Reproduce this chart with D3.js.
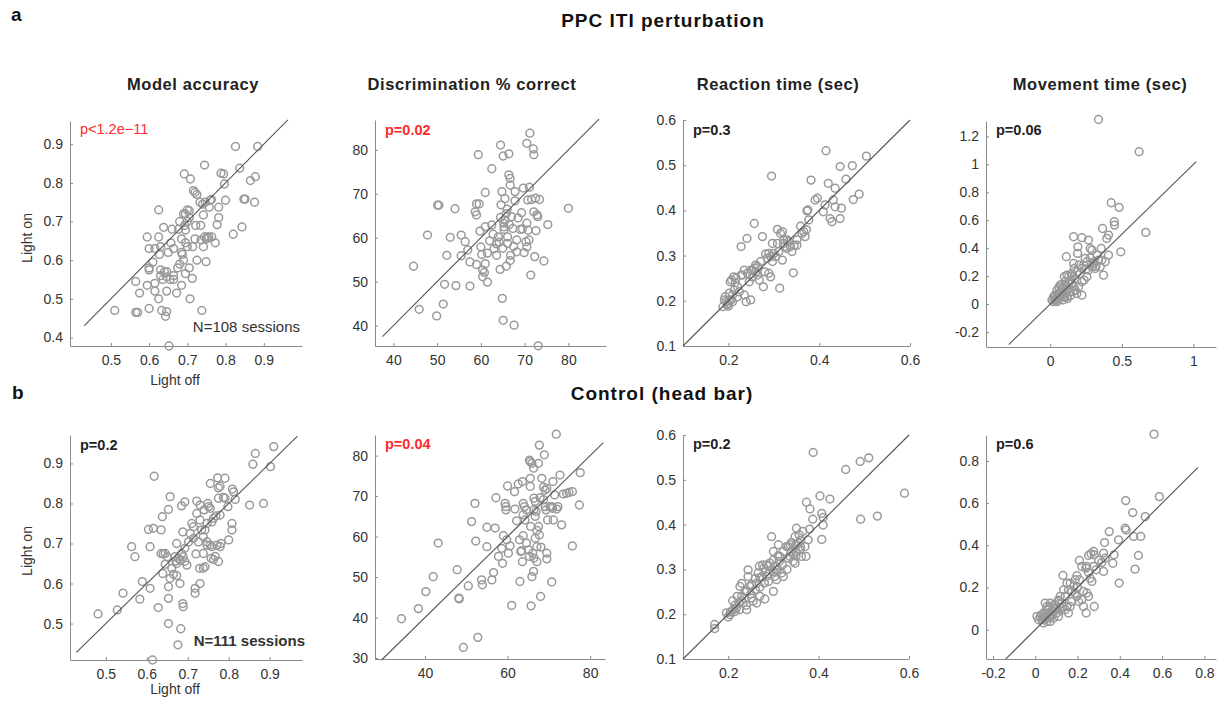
<!DOCTYPE html>
<html><head><meta charset="utf-8">
<script src="https://cdn.jsdelivr.net/npm/d3@7"></script>
<style>
body{margin:0;background:#fff;}
svg{display:block;font-family:"Liberation Sans",Arial,Helvetica,sans-serif;}
</style></head>
<body>
<svg id="chart" width="1221" height="702"></svg>
<script>
// ---------- DATA (Light off, Light on) ----------
const ppcModelAcc = [[0.51,0.47],[0.565,0.465],[0.57,0.465],[0.60,0.475],[0.565,0.545],[0.575,0.515],[0.595,0.535],[0.595,0.66],[0.60,0.63],[0.60,0.58],[0.60,0.575],[0.615,0.54],[0.615,0.52],[0.625,0.50],[0.625,0.73],[0.625,0.66],[0.615,0.63],[0.61,0.595],[0.627,0.615],[0.63,0.635],[0.638,0.685],[0.633,0.47],[0.643,0.455],[0.646,0.467],[0.63,0.575],[0.64,0.57],[0.636,0.55],[0.646,0.57],[0.65,0.62],[0.657,0.645],[0.66,0.68],[0.652,0.378],[0.664,0.56],[0.672,0.515],[0.675,0.58],[0.68,0.59],[0.685,0.62],[0.687,0.615],[0.685,0.535],[0.677,0.68],[0.68,0.70],[0.69,0.72],[0.695,0.72],[0.692,0.823],[0.708,0.81],[0.70,0.73],[0.705,0.728],[0.693,0.69],[0.685,0.655],[0.695,0.645],[0.70,0.635],[0.695,0.565],[0.705,0.58],[0.707,0.50],[0.713,0.553],[0.70,0.70],[0.705,0.71],[0.716,0.78],[0.72,0.775],[0.725,0.77],[0.722,0.69],[0.725,0.60],[0.714,0.635],[0.735,0.69],[0.74,0.745],[0.733,0.75],[0.745,0.846],[0.736,0.652],[0.738,0.47],[0.742,0.635],[0.745,0.66],[0.75,0.655],[0.752,0.66],[0.747,0.75],[0.749,0.596],[0.742,0.717],[0.76,0.755],[0.763,0.757],[0.757,0.737],[0.773,0.645],[0.778,0.692],[0.782,0.71],[0.782,0.737],[0.788,0.825],[0.795,0.823],[0.797,0.797],[0.80,0.755],[0.82,0.667],[0.826,0.894],[0.837,0.838],[0.843,0.686],[0.848,0.758],[0.851,0.758],[0.865,0.806],[0.878,0.816],[0.876,0.75],[0.884,0.894],[0.764,0.66],[0.756,0.66],[0.646,0.557],[0.655,0.55],[0.664,0.55],[0.695,0.678],[0.664,0.63],[0.646,0.52],[0.72,0.655],[0.69,0.60],[0.63,0.56]];

const ppcDiscrim = [[44.6,53.5],[45.9,43.7],[47.8,60.6],[49.9,42.2],[50.1,67.4],[50.4,67.4],[51.4,44.9],[51.7,49.4],[52.2,56.0],[53.0,60.1],[54.1,66.6],[54.3,49.1],[55.5,60.6],[55.5,55.9],[56.4,59.1],[57.5,49.0],[57.5,54.5],[57.0,57.2],[58.7,65.9],[59.0,65.2],[59.0,67.7],[59.6,67.7],[59.4,78.9],[59.0,53.9],[60.0,57.9],[60.2,56.2],[60.4,52.6],[60.8,52.1],[60.4,51.1],[61.0,54.1],[61.0,70.3],[61.0,62.5],[61.5,49.9],[62.0,59.3],[62.5,62.9],[62.5,75.7],[63.6,58.6],[63.6,56.0],[64.0,60.2],[64.4,52.8],[64.5,81.1],[64.5,64.6],[64.6,67.5],[64.8,70.5],[64.9,46.2],[65.0,57.6],[65.1,41.2],[65.1,78.6],[65.3,62.5],[65.3,61.9],[65.5,64.0],[65.5,68.9],[65.8,53.5],[66.1,58.7],[66.1,60.2],[66.4,79.1],[66.4,74.3],[66.7,73.5],[66.7,72.0],[66.7,54.8],[67.0,64.8],[67.3,62.1],[67.6,40.1],[67.8,70.5],[67.8,68.4],[68.2,59.5],[68.2,56.8],[69.0,61.9],[69.3,65.7],[69.7,71.3],[69.9,56.6],[70.3,59.1],[70.5,57.9],[70.5,81.5],[70.7,68.6],[70.5,63.3],[70.8,61.7],[71.1,71.5],[71.2,83.8],[71.4,51.5],[71.6,68.7],[72.0,80.2],[72.1,78.9],[72.1,65.9],[72.3,55.7],[72.6,61.6],[72.8,65.2],[73.0,64.8],[73.1,35.4],[73.4,68.7],[74.4,54.7],[75.3,63.0],[80.0,66.7],[63.0,57.5],[65.8,65.5],[66.5,63.0],[68.5,64.5],[64.2,59.0],[62.8,60.8],[67.5,58.0],[71.0,59.5],[69.5,62.0],[66.0,66.5],[65.2,63.3],[72.5,69.0],[59.8,61.5],[61.5,56.5],[66.8,56.0]];

const ppcReaction = [[0.191,0.202],[0.195,0.198],[0.199,0.194],[0.202,0.2],[0.206,0.202],[0.209,0.198],[0.188,0.187],[0.197,0.191],[0.2,0.188],[0.204,0.242],[0.207,0.246],[0.209,0.213],[0.213,0.224],[0.215,0.24],[0.22,0.231],[0.224,0.22],[0.228,0.32],[0.231,0.257],[0.235,0.213],[0.239,0.198],[0.241,0.338],[0.242,0.261],[0.249,0.202],[0.246,0.242],[0.253,0.253],[0.257,0.371],[0.26,0.264],[0.268,0.246],[0.271,0.287],[0.275,0.342],[0.277,0.231],[0.28,0.264],[0.282,0.304],[0.286,0.294],[0.289,0.261],[0.293,0.253],[0.295,0.476],[0.297,0.327],[0.3,0.305],[0.304,0.298],[0.308,0.358],[0.311,0.309],[0.313,0.228],[0.315,0.349],[0.319,0.353],[0.319,0.29],[0.321,0.327],[0.322,0.335],[0.324,0.32],[0.329,0.316],[0.333,0.331],[0.337,0.32],[0.34,0.309],[0.343,0.262],[0.345,0.323],[0.351,0.323],[0.359,0.365],[0.362,0.349],[0.366,0.353],[0.369,0.342],[0.372,0.357],[0.373,0.399],[0.375,0.401],[0.377,0.379],[0.382,0.467],[0.391,0.423],[0.396,0.427],[0.409,0.397],[0.413,0.412],[0.415,0.532],[0.42,0.46],[0.424,0.382],[0.428,0.375],[0.431,0.423],[0.435,0.449],[0.435,0.408],[0.446,0.497],[0.446,0.382],[0.449,0.405],[0.459,0.469],[0.473,0.499],[0.475,0.424],[0.488,0.436],[0.504,0.52],[0.253,0.268],[0.257,0.272],[0.26,0.279],[0.235,0.268],[0.228,0.257],[0.217,0.25],[0.212,0.253],[0.293,0.298],[0.297,0.287],[0.193,0.209],[0.202,0.217],[0.22,0.209],[0.249,0.268],[0.264,0.276],[0.308,0.327],[0.329,0.335],[0.351,0.335],[0.264,0.257],[0.289,0.305]];

const ppcMovement = [[0.337,1.321],[0.621,1.09],[0.426,0.725],[0.481,0.692],[0.447,0.589],[0.449,0.565],[0.667,0.513],[0.365,0.541],[0.407,0.494],[0.395,0.47],[0.493,0.374],[0.163,0.482],[0.221,0.475],[0.267,0.458],[0.193,0.41],[0.191,0.363],[0.112,0.339],[0.279,0.398],[0.291,0.386],[0.356,0.398],[0.372,0.207],[0.349,0.267],[0.36,0.315],[0.326,0.351],[0.337,0.315],[0.407,0.351],[0.384,0.303],[0.302,0.291],[0.314,0.255],[0.244,0.327],[0.256,0.303],[0.233,0.279],[0.221,0.255],[0.267,0.243],[0.291,0.267],[0.256,0.196],[0.237,0.172],[0.163,0.291],[0.186,0.231],[0.209,0.219],[0.221,0.16],[0.221,0.064],[0.198,0.124],[0.116,0.207],[0.128,0.196],[0.14,0.172],[0.151,0.148],[0.163,0.124],[0.174,0.1],[0.186,0.076],[0.105,0.16],[0.093,0.124],[0.07,0.136],[0.081,0.088],[0.058,0.064],[0.047,0.041],[0.035,0.029],[0.023,0.052],[0.047,0.1],[0.07,0.076],[0.093,0.052],[0.116,0.052],[0.14,0.088],[0.058,0.029],[0.035,0.064],[0.047,0.017],[0.023,0.017],[0.012,0.029],[0.151,0.219],[0.167,0.255],[0.098,0.196],[0.128,0.112],[0.06,0.05],[0.08,0.06],[0.10,0.08],[0.12,0.1],[0.04,0.04],[0.09,0.11],[0.11,0.13],[0.13,0.15],[0.05,0.07],[0.07,0.09],[0.2,0.28],[0.25,0.25],[0.3,0.3],[0.32,0.27],[0.28,0.33],[0.15,0.2],[0.17,0.18],[0.1,0.05],[0.14,0.06],[0.16,0.09],[0.06,0.12],[0.08,0.14],[0.03,0.06],[0.12,0.04],[0.09,0.03]];

const ctlModelAcc = [[0.481,0.524],[0.528,0.534],[0.542,0.576],[0.563,0.692],[0.571,0.667],[0.583,0.561],[0.589,0.605],[0.604,0.735],[0.616,0.738],[0.608,0.692],[0.608,0.588],[0.618,0.868],[0.614,0.409],[0.628,0.54],[0.635,0.734],[0.638,0.767],[0.635,0.675],[0.64,0.674],[0.645,0.675],[0.639,0.625],[0.645,0.648],[0.65,0.667],[0.653,0.785],[0.657,0.817],[0.653,0.50],[0.653,0.563],[0.653,0.592],[0.657,0.613],[0.661,0.638],[0.665,0.623],[0.669,0.667],[0.671,0.656],[0.673,0.65],[0.677,0.663],[0.673,0.70],[0.673,0.62],[0.676,0.447],[0.681,0.60],[0.681,0.659],[0.685,0.675],[0.683,0.487],[0.685,0.794],[0.688,0.55],[0.689,0.542],[0.688,0.729],[0.689,0.667],[0.693,0.804],[0.693,0.688],[0.693,0.655],[0.698,0.646],[0.702,0.704],[0.706,0.725],[0.71,0.75],[0.714,0.742],[0.714,0.713],[0.718,0.588],[0.718,0.576],[0.72,0.674],[0.722,0.806],[0.722,0.775],[0.726,0.704],[0.729,0.638],[0.73,0.60],[0.73,0.796],[0.734,0.734],[0.738,0.717],[0.738,0.638],[0.74,0.784],[0.742,0.642],[0.747,0.75],[0.747,0.696],[0.749,0.80],[0.751,0.792],[0.755,0.788],[0.755,0.85],[0.755,0.696],[0.759,0.692],[0.757,0.663],[0.759,0.754],[0.763,0.763],[0.763,0.66],[0.767,0.668],[0.769,0.769],[0.771,0.696],[0.773,0.864],[0.775,0.839],[0.779,0.843],[0.775,0.813],[0.775,0.655],[0.779,0.692],[0.781,0.70],[0.779,0.771],[0.787,0.815],[0.791,0.813],[0.791,0.863],[0.798,0.792],[0.80,0.709],[0.808,0.75],[0.808,0.734],[0.809,0.836],[0.812,0.829],[0.816,0.81],[0.851,0.796],[0.859,0.898],[0.865,0.925],[0.885,0.80],[0.902,0.892],[0.91,0.942],[0.742,0.734],[0.73,0.759],[0.747,0.704],[0.738,0.675]];

const ctlDiscrim = [[34.3,39.7],[38.4,42.2],[40.2,46.4],[42.0,50.1],[43.2,58.4],[47.8,51.8],[48.2,44.8],[48.3,44.6],[49.3,32.6],[50.5,47.8],[51.3,63.7],[52.1,68.2],[52.3,58.9],[52.8,35.1],[53.7,49.3],[53.9,48.1],[55.0,62.3],[55.0,57.5],[56.2,49.3],[56.6,51.1],[57.0,62.1],[57.2,69.6],[57.8,55.1],[58.6,57.1],[58.8,53.4],[59.0,60.2],[59.4,68.2],[59.6,67.4],[59.6,66.6],[59.8,59.2],[60.0,72.5],[60.2,55.9],[60.6,57.7],[61.0,43.0],[61.7,71.1],[61.8,66.8],[62.2,63.9],[62.6,73.0],[62.9,59.2],[63.0,48.9],[63.2,56.3],[63.4,56.5],[63.6,73.6],[63.6,53.8],[63.8,68.2],[64.1,67.4],[63.8,65.4],[63.8,60.2],[64.2,64.1],[64.6,66.6],[64.6,58.4],[65.1,56.7],[65.3,55.1],[65.3,78.9],[65.5,78.5],[65.9,78.1],[65.5,74.4],[65.5,72.4],[65.6,62.5],[65.7,42.9],[65.9,50.1],[66.1,55.9],[66.4,54.7],[66.3,76.9],[66.3,51.4],[66.4,69.5],[66.7,68.7],[66.4,66.6],[66.9,66.2],[66.7,65.0],[66.7,59.6],[67.1,61.5],[67.1,57.5],[67.1,53.8],[67.5,78.1],[67.5,62.5],[67.7,82.6],[67.7,60.4],[67.9,69.6],[68.0,45.2],[68.1,57.4],[68.3,74.4],[68.7,72.2],[69.1,71.5],[69.5,71.9],[68.7,69.1],[69.1,67.4],[68.9,80.2],[69.3,66.6],[69.7,64.1],[69.5,55.9],[69.5,54.5],[70.3,67.4],[70.7,67.4],[70.9,67.0],[71.0,73.6],[71.1,64.1],[71.4,70.3],[70.7,48.8],[71.8,85.3],[71.9,66.8],[72.2,67.4],[72.7,75.2],[73.1,62.9],[73.5,70.5],[74.3,70.7],[74.9,70.9],[75.7,71.1],[75.7,57.7],[77.4,67.8],[77.6,75.8]];

const ctlReaction = [[0.17,0.177],[0.17,0.168],[0.196,0.203],[0.2,0.194],[0.204,0.199],[0.21,0.23],[0.211,0.21],[0.215,0.206],[0.218,0.214],[0.224,0.225],[0.226,0.262],[0.23,0.269],[0.23,0.24],[0.233,0.225],[0.237,0.251],[0.241,0.251],[0.241,0.21],[0.244,0.299],[0.244,0.284],[0.248,0.262],[0.252,0.266],[0.252,0.236],[0.255,0.229],[0.263,0.225],[0.263,0.269],[0.266,0.292],[0.269,0.307],[0.27,0.281],[0.274,0.284],[0.276,0.31],[0.279,0.303],[0.281,0.234],[0.283,0.295],[0.285,0.284],[0.289,0.273],[0.289,0.307],[0.292,0.314],[0.296,0.373],[0.3,0.251],[0.3,0.321],[0.303,0.307],[0.306,0.299],[0.307,0.277],[0.303,0.284],[0.311,0.355],[0.313,0.318],[0.314,0.329],[0.318,0.292],[0.322,0.284],[0.322,0.34],[0.329,0.351],[0.333,0.351],[0.337,0.355],[0.333,0.325],[0.337,0.329],[0.344,0.318],[0.348,0.314],[0.344,0.333],[0.35,0.34],[0.348,0.373],[0.351,0.392],[0.351,0.355],[0.355,0.359],[0.357,0.377],[0.359,0.344],[0.362,0.329],[0.365,0.385],[0.37,0.351],[0.372,0.329],[0.373,0.45],[0.377,0.366],[0.381,0.435],[0.387,0.412],[0.388,0.561],[0.403,0.464],[0.407,0.367],[0.407,0.425],[0.41,0.416],[0.41,0.399],[0.425,0.457],[0.46,0.523],[0.492,0.541],[0.511,0.549],[0.493,0.412],[0.53,0.419],[0.59,0.47],[0.25,0.245],[0.26,0.255],[0.27,0.26],[0.28,0.27],[0.29,0.29],[0.31,0.3],[0.32,0.31],[0.34,0.34],[0.36,0.35],[0.23,0.23],[0.22,0.24],[0.26,0.28],[0.3,0.295],[0.33,0.3],[0.36,0.365],[0.38,0.39],[0.27,0.24],[0.24,0.22],[0.35,0.33],[0.31,0.33],[0.285,0.31],[0.205,0.205],[0.215,0.22],[0.225,0.21],[0.3,0.34],[0.34,0.36]];

const ctlMovement = [[0.562,0.927],[0.587,0.631],[0.428,0.612],[0.461,0.555],[0.52,0.536],[0.425,0.481],[0.43,0.473],[0.465,0.442],[0.499,0.442],[0.488,0.352],[0.472,0.287],[0.397,0.221],[0.35,0.465],[0.328,0.413],[0.394,0.426],[0.373,0.355],[0.367,0.315],[0.323,0.363],[0.331,0.339],[0.315,0.319],[0.323,0.276],[0.276,0.371],[0.279,0.355],[0.252,0.352],[0.263,0.36],[0.244,0.3],[0.209,0.328],[0.239,0.292],[0.252,0.271],[0.276,0.3],[0.288,0.284],[0.26,0.244],[0.268,0.229],[0.279,0.11],[0.241,0.079],[0.228,0.11],[0.244,0.174],[0.252,0.158],[0.22,0.142],[0.228,0.181],[0.197,0.256],[0.189,0.237],[0.209,0.237],[0.131,0.257],[0.165,0.221],[0.173,0.181],[0.181,0.205],[0.189,0.174],[0.15,0.221],[0.157,0.189],[0.197,0.158],[0.205,0.134],[0.173,0.134],[0.165,0.11],[0.134,0.189],[0.142,0.158],[0.118,0.158],[0.11,0.134],[0.094,0.118],[0.087,0.103],[0.079,0.087],[0.071,0.071],[0.063,0.063],[0.055,0.095],[0.047,0.063],[0.039,0.055],[0.031,0.071],[0.024,0.063],[0.031,0.047],[0.047,0.126],[0.055,0.11],[0.071,0.126],[0.063,0.103],[0.094,0.095],[0.102,0.079],[0.118,0.103],[0.126,0.126],[0.142,0.095],[0.15,0.11],[0.11,0.063],[0.087,0.055],[0.071,0.039],[0.039,0.032],[0.055,0.039],[0.157,0.079],[0.008,0.063],[0.016,0.047],[0.06,0.08],[0.08,0.07],[0.1,0.1],[0.12,0.09],[0.05,0.05],[0.07,0.06],[0.09,0.12],[0.11,0.14],[0.13,0.11],[0.04,0.08],[0.3,0.33],[0.2,0.2],[0.22,0.3]];

// tick values
const ticksModelA_x = [0.5,0.6,0.7,0.8,0.9], ticksModelA_y = [0.4,0.5,0.6,0.7,0.8,0.9];
const ticksDiscA_x = [40,50,60,70,80], ticksDiscA_y = [40,50,60,70,80];
const ticksRT_x = [0.2,0.4,0.6], ticksRT_y = [0.1,0.2,0.3,0.4,0.5,0.6];
const ticksMovA_x = [0,0.5,1], ticksMovA_y = [-0.2,0,0.2,0.4,0.6,0.8,1,1.2];
const ticksModelB_x = [0.5,0.6,0.7,0.8,0.9], ticksModelB_y = [0.5,0.6,0.7,0.8,0.9];
const ticksDiscB_x = [40,60,80], ticksDiscB_y = [30,40,50,60,70,80];
const ticksMovB_x = [-0.2,0,0.2,0.4,0.6,0.8], ticksMovB_y = [0,0.2,0.4,0.6,0.8];

const columnTitles = ["Model accuracy","Discrimination % correct","Reaction time (sec)","Movement time (sec)"];
const rowTitles = ["PPC ITI perturbation","Control (head bar)"];
const pTextsA = ["p<1.2e\u221211","p=0.02","p=0.3","p=0.06"];
const pTextsB = ["p=0.2","p=0.04","p=0.2","p=0.6"];

// ---------- LAYOUT ----------
const svg = d3.select("#chart");
const RED = "#ff2a2a";
const fmt = d => String(d);

const panels = [
 {data:ppcModelAcc, l:70, r:302, t:121, b:346, xd:[0.393,1.0], yd:[0.378,0.96], xt:ticksModelA_x, yt:ticksModelA_y, diag:[0.43,0.963], p:pTextsA[0], pc:RED, pw:"normal", py:134, n:"N=108 sessions", nw:"normal", ny:332, nx:300, xl:"Light off", yl:"Light on", xly:385, yly:238},
 {data:ppcDiscrim, l:375, r:606, t:120, b:346, xd:[35.8,88.6], yd:[35.35,86.8], xt:ticksDiscA_x, yt:ticksDiscA_y, diag:[37.5,87], p:pTextsA[1], pc:RED, pw:"bold", py:135},
 {data:ppcReaction, l:683, r:910, t:120, b:346, xd:[0.1,0.6], yd:[0.1,0.6], xt:ticksRT_x, yt:ticksRT_y, diag:[0.1,0.6], p:pTextsA[2], pc:"#222", pw:"bold", py:135},
 {data:ppcMovement, l:986, r:1216, t:121, b:347, xd:[-0.449,1.158], yd:[-0.307,1.31], xt:ticksMovA_x, yt:ticksMovA_y, diag:[-0.29,1.02], p:pTextsA[3], pc:"#222", pw:"bold", py:135},
 {data:ctlModelAcc, l:70, r:302, t:435, b:660, xd:[0.4125,0.979], yd:[0.409,0.971], xt:ticksModelB_x, yt:ticksModelB_y, diag:[0.428,0.968], p:pTextsB[0], pc:"#222", pw:"bold", py:450, n:"N=111 sessions", nw:"bold", ny:646, nx:305, xl:"Light off", yl:"Light on", xly:694, yly:551},
 {data:ctlDiscrim, l:375, r:605, t:435, b:659, xd:[27.9,83.6], yd:[29.75,85.1], xt:ticksDiscB_x, yt:ticksDiscB_y, diag:[29.5,83.2], p:pTextsB[1], pc:RED, pw:"bold", py:449},
 {data:ctlReaction, l:683, r:909, t:435, b:659, xd:[0.1,0.6], yd:[0.1,0.6], xt:ticksRT_x, yt:ticksRT_y, diag:[0.1,0.6], p:pTextsB[2], pc:"#222", pw:"bold", py:449},
 {data:ctlMovement, l:986, r:1216, t:435, b:659, xd:[-0.233,0.855], yd:[-0.139,0.923], xt:ticksMovB_x, yt:ticksMovB_y, diag:[-0.14,0.77], p:pTextsB[3], pc:"#222", pw:"bold", py:449}
];

panels.forEach(c => {
  const x = d3.scaleLinear().domain(c.xd).range([c.l, c.r]);
  const y = d3.scaleLinear().domain(c.yd).range([c.b, c.t]);
  const g = svg.append("g");

  const ax = g.append("g").attr("transform", `translate(0,${c.b})`)
    .call(d3.axisBottom(x).tickValues(c.xt).tickFormat(fmt).tickSizeInner(-3).tickSizeOuter(0).tickPadding(9));
  const ay = g.append("g").attr("transform", `translate(${c.l},0)`)
    .call(d3.axisLeft(y).tickValues(c.yt).tickFormat(fmt).tickSizeInner(-3).tickSizeOuter(0).tickPadding(7));
  [ax, ay].forEach(a => {
    a.select(".domain").attr("stroke", "#8a8a8a");
    a.selectAll(".tick line").attr("stroke", "#8a8a8a");
    a.selectAll(".tick text").attr("fill", "#333").style("font-size", "14px")
      .style("font-family", '"Liberation Sans", Arial, sans-serif');
  });

  g.append("g").selectAll("circle").data(c.data).join("circle")
    .attr("cx", d => x(d[0])).attr("cy", d => y(d[1])).attr("r", 3.9)
    .attr("fill", "none").attr("stroke", "#999").attr("stroke-width", 1.5);

  g.append("line")
    .attr("x1", x(c.diag[0])).attr("y1", y(c.diag[0]))
    .attr("x2", x(c.diag[1])).attr("y2", y(c.diag[1]))
    .attr("stroke", "#555").attr("stroke-width", 1.1);

  g.append("text").attr("x", c.l + 10).attr("y", c.py).text(c.p)
    .attr("fill", c.pc).style("font-size", "14.5px").style("font-weight", c.pw);

  if (c.n) {
    g.append("text").attr("x", c.nx).attr("y", c.ny).attr("text-anchor", "end").text(c.n)
      .attr("fill", "#333").style("font-size", "15px").style("font-weight", c.nw);
    g.append("text").attr("x", 175).attr("y", c.xly).attr("text-anchor", "middle").text(c.xl)
      .attr("fill", "#333").style("font-size", "14px");
    g.append("text").attr("transform", `translate(32,${c.yly}) rotate(-90)`).attr("text-anchor", "middle").text(c.yl)
      .attr("fill", "#333").style("font-size", "14px");
  }
});

// column titles
const titleX = [193, 472, 778, 1100];
columnTitles.forEach((t, i) => {
  svg.append("text").attr("x", titleX[i]).attr("y", 90).attr("text-anchor", "middle").text(t)
    .attr("fill", "#222").style("font-size", "16.5px").style("font-weight", "bold").style("letter-spacing", "0.6px");
});
// row titles
svg.append("text").attr("x", 663).attr("y", 27).attr("text-anchor", "middle").text(rowTitles[0])
  .attr("fill", "#111").style("font-size", "19px").style("font-weight", "bold").style("letter-spacing", "1px");
svg.append("text").attr("x", 662).attr("y", 400).attr("text-anchor", "middle").text(rowTitles[1])
  .attr("fill", "#111").style("font-size", "19px").style("font-weight", "bold").style("letter-spacing", "1px");
svg.append("text").attr("x", 11).attr("y", 21).text("a").attr("fill", "#111").style("font-size", "19px").style("font-weight", "bold");
svg.append("text").attr("x", 12).attr("y", 399).text("b").attr("fill", "#111").style("font-size", "19px").style("font-weight", "bold");
</script>
</body></html>
